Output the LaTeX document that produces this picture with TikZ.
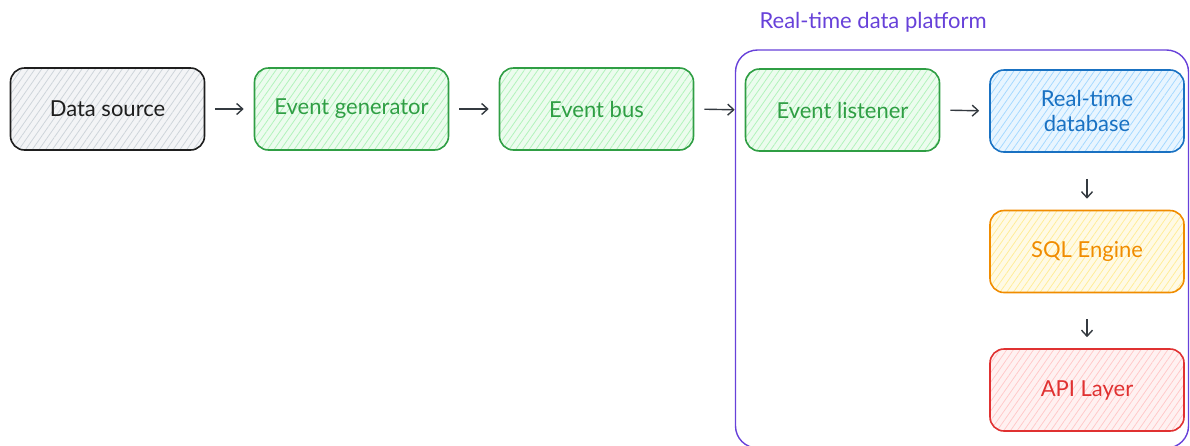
\documentclass[tikz,border=0pt]{standalone}
\usepackage{fontspec}
\setmainfont{Lato}
\usetikzlibrary{arrows.meta,patterns.meta}
\definecolor{inkblack}{HTML}{1E1E1E}
\definecolor{fillgray}{HTML}{CED4DA}
\definecolor{inkgreen}{HTML}{2F9E44}
\definecolor{fillgreen}{HTML}{B2F2BB}
\definecolor{inkblue}{HTML}{1971C2}
\definecolor{fillblue}{HTML}{A5D8FF}
\definecolor{inkorange}{HTML}{F08C00}
\definecolor{fillorange}{HTML}{FFEC99}
\definecolor{inkred}{HTML}{E03131}
\definecolor{fillred}{HTML}{FFC9C9}
\definecolor{inkviolet}{HTML}{6741D9}
\definecolor{arrowgray}{HTML}{343A40}
\tikzset{
  box/.style n args={2}{draw=#1, text=#1, line width=1.6pt, rounded corners=14pt,
    minimum width=194pt, minimum height=82pt, align=center,
    font=\fontsize{22}{25}\selectfont,
    preaction={fill=#2, fill opacity=0.25},
    pattern={Lines[angle=55,distance=5.5pt,line width=0.8pt]}, pattern color=#2},
  flow/.style={draw=arrowgray, line width=1.4pt, -{Straight Barb[length=6pt,width=11pt]}},
  hflow/.style={flow, shorten <=10pt, shorten >=10pt},
  vflow/.style={flow, shorten <=26pt, shorten >=11pt},
  platform/.style={draw=inkviolet, line width=1.4pt, rounded corners=22pt,
    minimum width=453pt, minimum height=398pt},
  title/.style={text=inkviolet, font=\fontsize{22}{25}\selectfont, anchor=west}
}
\begin{document}
\begin{tikzpicture}[x=1pt,y=-1pt]
\useasboundingbox (0,0) rectangle (1190,445);
\begin{scope}
\clip (0,0) rectangle (1190,445);
\node[platform] (platform) at (962,249) {};
\end{scope}
\node[title] (ptitle) at (756,22) {Real-time data platform};
\node[box={inkblack}{fillgray}] (ds) at (107.5,109) {Data source};
\node[box={inkgreen}{fillgreen}] (eg) at (351.5,109) {Event generator};
\node[box={inkgreen}{fillgreen}] (eb) at (596.5,109) {Event bus};
\node[box={inkgreen}{fillgreen}] (el) at (842.5,110) {Event listener};
\node[box={inkblue}{fillblue}] (db) at (1087,111) {Real-time\\database};
\node[box={inkorange}{fillorange}] (sql) at (1087,251.5) {SQL Engine};
\node[box={inkred}{fillred}] (api) at (1087,390) {API Layer};
\draw[hflow] (ds.east) -- (eg.west);
\draw[hflow] (eg.east) -- (eb.west);
\draw[hflow] (eb.east) -- (el.west);
\draw[hflow] (el.east) -- (db.west);
\draw[vflow] (db.south) -- (sql.north);
\draw[vflow] (sql.south) -- (api.north);
\end{tikzpicture}
\end{document}
